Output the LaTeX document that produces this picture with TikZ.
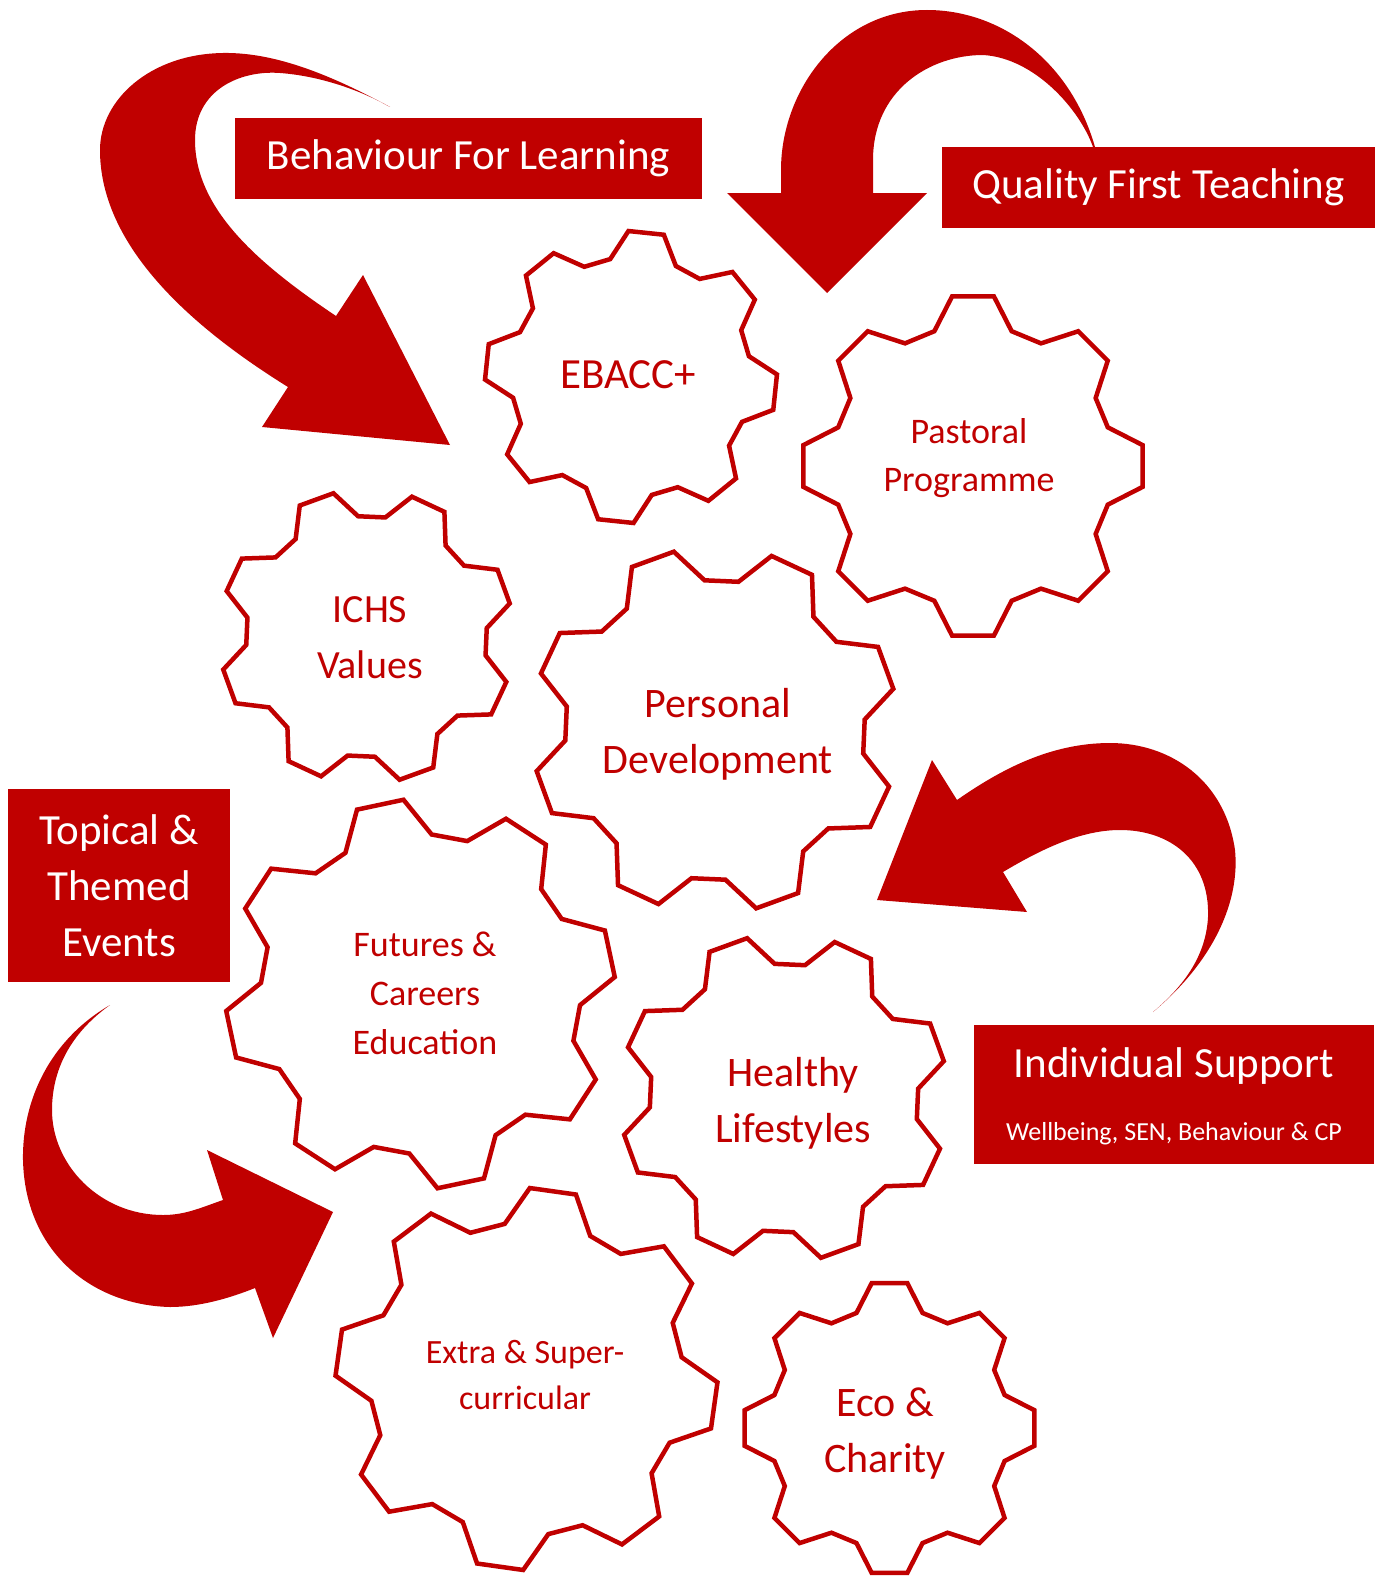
\documentclass[tikz,border=0pt]{standalone}
\usepackage{fontspec}
\setmainfont{Carlito}
\usepackage{xcolor}
\usepackage{tikz}

\definecolor{schoolred}{HTML}{C00000}

% eight-tooth gear: centre, outer radius, rotation
\newcommand{\drawgear}[3]{%
  \draw[gearline, shift={(#1)}] ({#3-16}:{0.82*#2})
    \foreach \k in {0,...,7}{
      -- ({#3+45*\k-7}:#2) -- ({#3+45*\k+7}:#2)
      -- ({#3+45*\k+16}:{0.82*#2}) -- ({#3+45*\k+29}:{0.82*#2})
    } -- cycle;
}

\begin{document}
\begin{tikzpicture}[x=1pt, y=-1pt,
  gearline/.style={draw=schoolred, line width=4.5pt, fill=white},
  gearlabel/.style={text=schoolred, align=center, inner sep=0pt, font=\fontsize{42}{56}\selectfont},
  redbox/.style={fill=schoolred, text=white, align=center, inner sep=0pt, font=\fontsize{43}{56}\selectfont}]
  \useasboundingbox[fill=white] (0,0) rectangle (1383,1576);

  % curved arrows
  \fill[schoolred] (390,107) .. controls (340,80) and (280,52) .. (223,53)
    .. controls (150,54) and (100,100) .. (100,150)
    .. controls (100,240) and (180,320) .. (288,387)
    -- (262,427) -- (450,445) -- (363,275) -- (336,316)
    .. controls (260,265) and (195,210) .. (195,140)
    .. controls (195,90) and (240,70) .. (280,73)
    .. controls (320,76) and (360,90) .. (390,107) -- cycle;
  \fill[schoolred] (1095,147) .. controls (1070,60) and (1000,10) .. (927,10)
    .. controls (840,10) and (781,90) .. (781,170) -- (781,193)
    -- (727,193) -- (827,293) -- (927,193) -- (873,193) -- (873,160)
    .. controls (873,90) and (930,55) .. (983,55)
    .. controls (1035,58) and (1080,110) .. (1093,147) -- cycle;
  \fill[schoolred] (1153,1012) .. controls (1215,960) and (1240,900) .. (1235,850)
    .. controls (1225,780) and (1170,743) .. (1110,743)
    .. controls (1050,743) and (1000,770) .. (957,800)
    -- (932,760) -- (877,900) -- (1027,912) -- (1003,872)
    .. controls (1040,850) and (1080,830) .. (1120,830)
    .. controls (1170,830) and (1210,860) .. (1208,917)
    .. controls (1206,955) and (1185,985) .. (1153,1012) -- cycle;
  \fill[schoolred] (110,1005) .. controls (50,1040) and (22,1100) .. (23,1160)
    .. controls (25,1250) and (90,1305) .. (170,1307)
    .. controls (200,1307) and (230,1298) .. (255,1288)
    -- (273,1338) -- (333,1212) -- (207,1150) -- (223,1200)
    .. controls (200,1208) and (185,1215) .. (163,1215)
    .. controls (100,1215) and (52,1165) .. (52,1110)
    .. controls (52,1065) and (75,1030) .. (110,1005) -- cycle;

  % boxes
  \node[redbox, minimum width=467pt, minimum height=81pt] (behaviour) at (468.5,158.5) {Behaviour For Learning};
  \node[redbox, minimum width=433pt, minimum height=81pt] (quality) at (1158.5,187.5) {Quality First Teaching};
  \node[redbox, minimum width=222pt, minimum height=193pt] (events) at (119,885.5) {Topical \&\\Themed\\Events};
  \node[redbox, minimum width=400pt, minimum height=139pt] (support) at (1174,1094.5) {};
  \node[text=white, anchor=base, inner sep=0pt, font=\fontsize{43}{50}\selectfont] (supporttitle) at (1174,1077) {Individual Support};
  \node[text=white, anchor=base, inner sep=0pt, font=\fontsize{26}{30}\selectfont] (supportsub) at (1174,1140) {Wellbeing, SEN, Behaviour \& CP};

  % gears
  \drawgear{631,377}{146}{6}
  \node[gearlabel, font=\fontsize{43}{56}\selectfont] (ebacc) at (628,375) {EBACC+};
  \drawgear{973,466}{171}{0}
  \node[gearlabel, font=\fontsize{36}{48}\selectfont] (pastoral) at (969,458) {Pastoral\\Programme};
  \drawgear{366.5,636.5}{147}{25}
  \node[gearlabel, font=\fontsize{40}{56}\selectfont] (ichs) at (370,638) {ICHS\\Values};
  \drawgear{715,730}{183}{25}
  \node[gearlabel] (personal) at (718,734) {Personal\\Development};
  \drawgear{420.5,994}{195}{-12}
  \node[gearlabel, font=\fontsize{36}{49}\selectfont] (futures) at (425,993) {Futures \&\\Careers\\Education};
  \drawgear{784,1098}{164}{25}
  \node[gearlabel] (healthy) at (793,1103) {Healthy\\Lifestyles};
  \drawgear{526.5,1379}{191}{8}
  \node[gearlabel, font=\fontsize{34}{46}\selectfont] (extra) at (525,1375) {Extra \& Super-\\curricular};
  \drawgear{889.5,1428}{146}{0}
  \node[gearlabel] (eco) at (885,1434) {Eco \&\\Charity};
\end{tikzpicture}
\end{document}
